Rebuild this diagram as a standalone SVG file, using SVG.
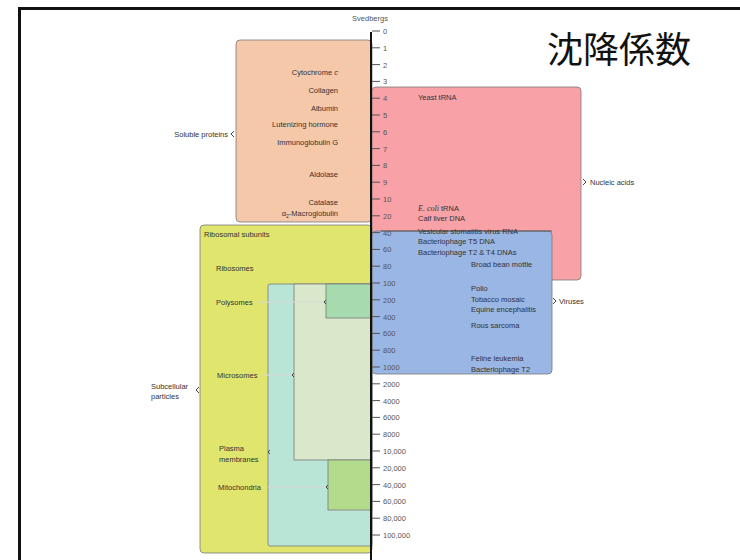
<svg xmlns="http://www.w3.org/2000/svg" width="740" height="560" viewBox="0 0 740 560">
<style>
.t{font-family:"Liberation Sans",Arial,sans-serif;font-size:7.5px;fill:#333}
.r{text-anchor:end}
.tk{font-family:"Liberation Sans",Arial,sans-serif;font-size:7.5px;fill:#555}
.box{stroke:#7a7a7a;stroke-width:0.8}
.lead{stroke:#d8d8d8;stroke-width:1.2;fill:none}
.tip{stroke:#444;stroke-width:1;fill:none}
</style>
<rect width="740" height="560" fill="#fff"/>
<path d="M19.5 560 V8.5 H740" fill="none" stroke="#111" stroke-width="3"/>
<text x="619" y="63" font-family="'Noto Sans CJK JP',sans-serif" font-size="36" text-anchor="middle" fill="#111">沈降係数</text>

<g id="soluble-proteins">
<rect class="box" x="236" y="40" width="136" height="182" rx="4" fill="#f5c8aa"/>
<text class="t r" x="338" y="75">Cytochrome <tspan font-style="italic">c</tspan></text>
<text class="t r" x="338" y="93">Collagen</text>
<text class="t r" x="338" y="111">Albumin</text>
<text class="t r" x="338" y="127">Lutenizing hormone</text>
<text class="t r" x="338" y="145">Immunoglobulin G</text>
<text class="t r" x="338" y="177">Aldolase</text>
<text class="t r" x="338" y="205">Catalase</text>
<text class="t r" x="338" y="216">α<tspan font-size="5" dy="2">2</tspan><tspan dy="-2">-Macroglobulin</tspan></text>
<text class="t r" x="228" y="137">Soluble proteins</text>
<path class="tip" d="M234 131 L231 134 L234 137"/>
</g>

<g id="nucleic-acids">
<rect class="box" x="372" y="87" width="209" height="193" rx="4" fill="#f8a1a7"/>
<text class="t" x="418" y="100">Yeast tRNA</text>
<text class="t" x="418" y="211"><tspan font-family="'Liberation Serif',serif" font-style="italic" font-size="8">E. coli</tspan> tRNA</text>
<text class="t" x="418" y="221">Calf liver DNA</text>
<text class="t" x="590" y="185">Nucleic acids</text>
<path class="tip" d="M583 179 L586 182 L583 185"/>
</g>

<g id="viruses">
<rect class="box" x="372" y="231" width="180" height="143" rx="4" fill="#9ab6e4"/>
<line x1="381" y1="231" x2="552" y2="231" stroke="#444" stroke-width="0.8"/>
<text class="t" x="418" y="234">Vesicular stomatitis virus RNA</text>
<text class="t" x="418" y="244">Bacteriophage T5 DNA</text>
<text class="t" x="418" y="255">Bacteriophage T2 &amp; T4 DNAs</text>
<text class="t" x="471" y="267">Broad bean mottle</text>
<text class="t" x="471" y="291">Polio</text>
<text class="t" x="471" y="302">Tobacco mosaic</text>
<text class="t" x="471" y="312">Equine encephalitis</text>
<text class="t" x="471" y="328">Rous sarcoma</text>
<text class="t" x="471" y="361">Feline leukemia</text>
<text class="t" x="471" y="372">Bacteriophage T2</text>
<text class="t" x="559" y="304">Viruses</text>
<path class="tip" d="M553 298 L556 301 L553 304"/>
</g>

<g id="subcellular-particles">
<rect class="box" x="200" y="225" width="172" height="328" rx="4" fill="#e0e56e"/>
<text class="t" x="204" y="237">Ribosomal subunits</text>
<text class="t" x="216" y="271">Ribosomes</text>
<text class="t" x="216" y="305">Polysomes</text>
<text class="t" x="217" y="378">Microsomes</text>
<text class="t" x="219" y="451">Plasma</text>
<text class="t" x="219" y="462">membranes</text>
<text class="t" x="218" y="490">Mitochondria</text>
<text class="t" x="151" y="389">Subcellular</text>
<text class="t" x="151" y="399">particles</text>
<path class="tip" d="M199 387 L196 390 L199 393"/>
</g>

<g id="plasma-membranes">
<rect class="box" x="268" y="284" width="104" height="262" rx="2" fill="#b9e5d6" stroke="#555"/>
</g>
<g id="microsomes">
<rect class="box" x="294" y="284" width="78" height="176" fill="#d9e8cb" stroke="#555"/>
</g>
<g id="polysomes">
<rect class="box" x="326" y="284" width="46" height="34" fill="#a6dbb0" stroke="#555"/>
</g>
<g id="mitochondria">
<rect class="box" x="328" y="460" width="44" height="50" fill="#b2dc8b" stroke="#555"/>
</g>

<g id="connectors">
<line class="lead" x1="258" y1="302" x2="324" y2="302"/>
<path class="tip" d="M326 300 L324 302 L326 304"/>
<line class="lead" x1="263" y1="375" x2="292" y2="375"/>
<path class="tip" d="M294 373 L292 375 L294 377"/>
<path class="tip" d="M270 450 L268 452 L270 454"/>
<line class="lead" x1="268" y1="487" x2="326" y2="487"/>
<path class="tip" d="M328 485 L326 487 L328 489"/>
</g>

<g id="axis">
<text class="tk" x="370" y="21" text-anchor="middle" font-size="6.5">Svedbergs</text>
<line x1="371" y1="32" x2="371" y2="560" stroke="#111" stroke-width="2"/>
<g stroke="#555" stroke-width="1">
<line x1="372" y1="31" x2="380" y2="31"/><line x1="372" y1="47.8" x2="380" y2="47.8"/><line x1="372" y1="64.6" x2="380" y2="64.6"/><line x1="372" y1="81.4" x2="380" y2="81.4"/><line x1="372" y1="98.2" x2="380" y2="98.2"/><line x1="372" y1="115" x2="380" y2="115"/><line x1="372" y1="131.8" x2="380" y2="131.8"/><line x1="372" y1="148.6" x2="380" y2="148.6"/><line x1="372" y1="165.4" x2="380" y2="165.4"/><line x1="372" y1="182.2" x2="380" y2="182.2"/><line x1="372" y1="199" x2="380" y2="199"/><line x1="372" y1="215.8" x2="380" y2="215.8"/><line x1="372" y1="232.6" x2="380" y2="232.6"/><line x1="372" y1="249.4" x2="380" y2="249.4"/><line x1="372" y1="266.2" x2="380" y2="266.2"/><line x1="372" y1="283" x2="380" y2="283"/><line x1="372" y1="299.8" x2="380" y2="299.8"/><line x1="372" y1="316.6" x2="380" y2="316.6"/><line x1="372" y1="333.4" x2="380" y2="333.4"/><line x1="372" y1="350.2" x2="380" y2="350.2"/><line x1="372" y1="367" x2="380" y2="367"/><line x1="372" y1="383.8" x2="380" y2="383.8"/><line x1="372" y1="400.6" x2="380" y2="400.6"/><line x1="372" y1="417.4" x2="380" y2="417.4"/><line x1="372" y1="434.2" x2="380" y2="434.2"/><line x1="372" y1="451" x2="380" y2="451"/><line x1="372" y1="467.8" x2="380" y2="467.8"/><line x1="372" y1="484.6" x2="380" y2="484.6"/><line x1="372" y1="501.4" x2="380" y2="501.4"/><line x1="372" y1="518.2" x2="380" y2="518.2"/><line x1="372" y1="535" x2="380" y2="535"/>
</g>
<g class="tk">
<text x="383" y="34">0</text><text x="383" y="50.8">1</text><text x="383" y="67.6">2</text><text x="383" y="84.4">3</text><text x="383" y="101.2">4</text><text x="383" y="118">5</text><text x="383" y="134.8">6</text><text x="383" y="151.6">7</text><text x="383" y="168.4">8</text><text x="383" y="185.2">9</text><text x="383" y="202">10</text><text x="383" y="218.8">20</text><text x="383" y="235.6">40</text><text x="383" y="252.4">60</text><text x="383" y="269.2">80</text><text x="383" y="286">100</text><text x="383" y="302.8">200</text><text x="383" y="319.6">400</text><text x="383" y="336.4">600</text><text x="383" y="353.2">800</text><text x="383" y="370">1000</text><text x="383" y="386.8">2000</text><text x="383" y="403.6">4000</text><text x="383" y="420.4">6000</text><text x="383" y="437.2">8000</text><text x="383" y="454">10,000</text><text x="383" y="470.8">20,000</text><text x="383" y="487.6">40,000</text><text x="383" y="504.4">60,000</text><text x="383" y="521.2">80,000</text><text x="383" y="538">100,000</text>
</g>
</g>
</svg>
